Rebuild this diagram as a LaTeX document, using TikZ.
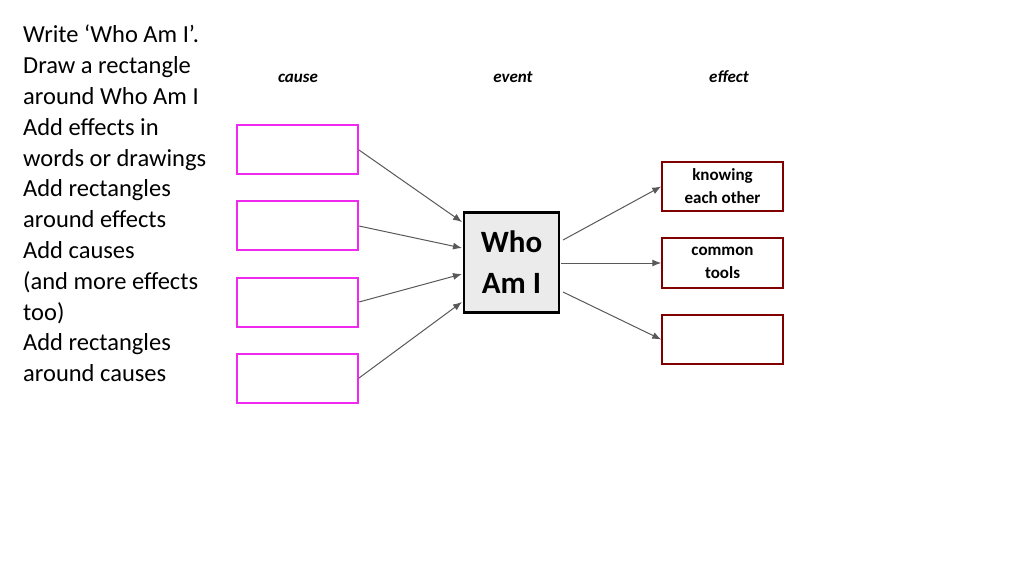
\documentclass[tikz,border=0pt]{standalone}
\usepackage{fontspec}
\usetikzlibrary{arrows.meta}
\setmainfont{Carlito}
\begin{document}
\begin{tikzpicture}[x=1pt,y=-1pt,
 cbox/.style={draw={rgb,255:red,240;green,40;blue,240},line width=2pt},
 ebox/.style={draw=red!50!black,line width=1.5pt},
 arr/.style={draw=black!65,line width=1pt,-{Latex[length=9pt,width=7pt]}},
 hdr/.style={font=\fontsize{17}{18}\selectfont\bfseries\itshape,anchor=base},
 etxt/.style={font=\fontsize{17}{23}\selectfont\bfseries,align=center}]
\useasboundingbox (0,0) rectangle (1024,576);
\fill[white] (0,0) rectangle (1024,576);
\node[anchor=north west,align=left,inner sep=0pt,font=\fontsize{24.5}{30.8}\selectfont] (txt) at (23,25)
 {Write ‘Who Am I’.\\Draw a rectangle\\around Who Am I\\Add effects in\\words or drawings\\Add rectangles\\around effects\\Add causes\\(and more effects\\too)\\Add rectangles\\around causes};
\node[hdr] (hc) at (298,82) {cause};
\node[hdr] (hv) at (513,82) {event};
\node[hdr] (hf) at (729,82) {effect};
\draw[cbox] (237,125) rectangle (358,174);
\draw[cbox] (237,201) rectangle (358,250);
\draw[cbox] (237,278) rectangle (358,327);
\draw[cbox] (237,354) rectangle (358,403);
\coordinate (c1) at (359,150); \coordinate (c2) at (359,226);
\coordinate (c3) at (359,302); \coordinate (c4) at (359,378);
\node[draw=black,line width=2.5pt,fill=black!8,minimum width=95pt,minimum height=100pt,align=center,
 font=\fontsize{31}{41}\selectfont\bfseries] (who) at (511.5,262.5) {Who\\Am I};
\node[ebox,minimum width=121pt,minimum height=49pt,etxt] (e1) at (722.5,186.5) {knowing\\each other};
\node[ebox,minimum width=121pt,minimum height=50pt,etxt] (e2) at (722.5,263) {common\\tools};
\node[ebox,minimum width=121pt,minimum height=49pt] (e3) at (722.5,339.5) {};
\draw[arr] (c1) -- (462,222);
\draw[arr] (c2) -- (462,248);
\draw[arr] (c3) -- (462,274);
\draw[arr] (c4) -- (462,302);
\draw[arr] (563,240) -- (e1.west);
\draw[arr] (561,263) -- (e2.west);
\draw[arr] (563,292) -- (e3.west);
\end{tikzpicture}
\end{document}
